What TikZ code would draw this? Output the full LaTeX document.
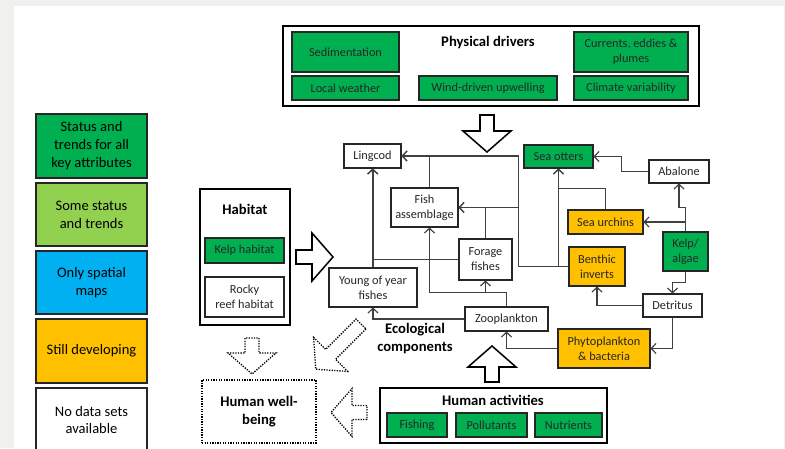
\documentclass[tikz,border=0pt]{standalone}
\usepackage{fontspec}
\setmainfont{Carlito}
\usetikzlibrary{arrows.meta}

\definecolor{fullstatus}{HTML}{00B050}
\definecolor{somestatus}{HTML}{92D050}
\definecolor{spatial}{HTML}{00B0F0}
\definecolor{developing}{HTML}{FFC000}
\definecolor{pagegray}{HTML}{F0F0EE}

\begin{document}
\begin{tikzpicture}[
    x=0.03cm, y=-0.03cm,
    comp/.style={
      draw=black!85,
      line width=0.9pt,
      fill=white,
      text=black!85,
      align=center,
      inner sep=1pt,
      font=\fontsize{10.5}{12.8}\selectfont
    },
    group/.style={draw=black, line width=1.6pt, fill=white},
    keybox/.style={
      draw=black!85,
      line width=1.6pt,
      minimum width=3.33cm,
      align=center,
      font=\fontsize{12.4}{15.3}\selectfont
    },
    title/.style={font=\fontsize{12.5}{15.3}\selectfont\bfseries, align=center},
    link/.style={-{Straight Barb[length=1.4mm,width=3mm]}, line width=1pt, draw=black!75},
    solidarrow/.style={draw=black, line width=1.3pt, fill=white},
    dotarrow/.style={draw=black, line width=1.1pt, dash pattern=on 1.1pt off 1.1pt, fill=white},
    pics/hollow/.style={code={
      \path[pic actions] (0,-7) -- (#1,-7) -- (#1,-24) -- (#1+21,0) -- (#1,24) -- (#1,7) -- (0,7) -- cycle;
    }}
  ]
    % page
    \fill[pagegray] (0,0) rectangle (785,448);
    \fill[white] (14,6) rectangle (784,448);
    \useasboundingbox (0,0) rectangle (785,448);

    % legend
    \node[keybox, fill=fullstatus, minimum height=1.92cm] (key1) at (91.5,146) {Status and\\trends for all\\key attributes};
    \node[keybox, fill=somestatus, minimum height=1.89cm] (key2) at (91.5,214.5) {Some status\\and trends};
    \node[keybox, fill=spatial, minimum height=1.89cm] (key3) at (91.5,282.5) {Only spatial\\maps};
    \node[keybox, fill=developing, minimum height=1.92cm] (key4) at (91.5,351) {Still developing};
    \node[keybox, fill=white, minimum height=1.92cm] (key5) at (91.5,420) {No data sets\\available};

    % physical drivers
    \node[group, minimum width=12.48cm, minimum height=2.4cm] (drivers) at (491,66) {};
    \node[title] (driverstitle) at (488,43) {Physical drivers};
    \node[comp, fill=fullstatus, minimum width=3.21cm, minimum height=1.2cm] (sediment) at (345.5,52) {Sedimentation};
    \node[comp, fill=fullstatus, minimum width=3.21cm, minimum height=0.72cm] (weather) at (345.5,88) {Local weather};
    \node[comp, fill=fullstatus, minimum width=4.14cm, minimum height=0.72cm] (upwelling) at (488,88) {Wind-driven upwelling};
    \node[comp, fill=fullstatus, minimum width=3.42cm, minimum height=1.2cm] (currents) at (631,52) {Currents, eddies \&\\plumes};
    \node[comp, fill=fullstatus, minimum width=3.42cm, minimum height=0.72cm] (climate) at (631,88) {Climate variability};

    % habitat
    \node[group, minimum width=2.7cm, minimum height=4.08cm] (habitat) at (245,257) {};
    \node[title] (habitattitle) at (245,209) {Habitat};
    \node[comp, fill=fullstatus, minimum width=2.37cm, minimum height=0.75cm] (kelphab) at (244.5,250.5) {Kelp habitat};
    \node[comp, minimum width=2.37cm, minimum height=1.2cm] (rocky) at (244.5,297) {Rocky\\reef habitat};

    % ecological components
    \node[comp, minimum width=1.71cm, minimum height=0.72cm] (lingcod) at (372.5,156) {Lingcod};
    \node[comp, minimum width=2.01cm, minimum height=1.17cm] (fish) at (424.5,207.5) {Fish\\assemblage};
    \node[comp, fill=fullstatus, minimum width=2.07cm, minimum height=0.69cm] (otters) at (558.5,156.5) {Sea otters};
    \node[comp, minimum width=1.8cm, minimum height=0.69cm] (abalone) at (679,171.5) {Abalone};
    \node[comp, fill=developing, minimum width=2.25cm, minimum height=0.72cm] (urchins) at (605.5,222) {Sea urchins};
    \node[comp, fill=fullstatus, minimum width=1.35cm, minimum height=1.17cm] (kelp) at (685.5,251.5) {Kelp/\\algae};
    \node[comp, fill=developing, minimum width=1.68cm, minimum height=1.17cm] (benthic) at (597,266.5) {Benthic\\inverts};
    \node[comp, minimum width=1.77cm, minimum height=0.69cm] (detritus) at (672.5,305.5) {Detritus};
    \node[comp, fill=developing, minimum width=2.76cm, minimum height=1.17cm] (phyto) at (604,348.5) {Phytoplankton\\\& bacteria};
    \node[comp, minimum width=2.49cm, minimum height=0.72cm] (zoo) at (506.5,319) {Zooplankton};
    \node[comp, minimum width=1.59cm, minimum height=1.23cm] (forage) at (485.5,259.5) {Forage\\fishes};
    \node[comp, minimum width=2.64cm, minimum height=1.17cm] (young) at (373,287.5) {Young of year\\fishes};
    \node[title] (ecotitle) at (415,338.5) {Ecological\\components};

    % human activities
    \node[group, minimum width=6.81cm, minimum height=1.65cm] (human) at (493.5,415.5) {};
    \node[title] (humantitle) at (493,400) {Human activities};
    \node[comp, fill=fullstatus, minimum width=1.8cm, minimum height=0.72cm] (fishing) at (417,425) {Fishing};
    \node[comp, fill=fullstatus, minimum width=2.13cm, minimum height=0.72cm] (pollutants) at (491.5,425) {Pollutants};
    \node[comp, fill=fullstatus, minimum width=2.01cm, minimum height=0.72cm] (nutrients) at (568.5,425) {Nutrients};

    % human well-being
    \node[title, draw=black, line width=1.1pt, dash pattern=on 1.1pt off 1.1pt,
      minimum width=3.42cm, minimum height=1.89cm] (wellbeing) at (259,411.5) {Human well-\\being};

    % food web links
    \draw[link] (benthic.west) -- ++(-50,0) |- (lingcod.east);
    \draw[link] (benthic.west) -- ++(-50,0) |- (fish.east);
    \draw[link] (benthic.west) -| (otters.south);
    \draw[link] (urchins.north) -- ++(0,-21) -| (otters.south);
    \draw[link] (abalone.west) -- ++(-27,0) |- (otters.east);
    \draw[link] (kelp.north) -- ++(0,-24) -| (abalone.south);
    \draw[link] (kelp.north) |- (urchins.east);
    \draw[link] (kelp.south) -- ++(0,11) -| (detritus.north);
    \draw[link] (detritus.west) -| (benthic.south);
    \draw[link] (detritus.south) |- (phyto.east);
    \draw[link] (phyto.west) -| (zoo.south);
    \draw[link] (zoo.west) -| (young.south);
    \draw[link] (zoo.north) -- ++(0,-14) -| (forage.south);
    \draw[link] (zoo.north) -- ++(0,-14) -| ([xshift=0.15cm]fish.south);
    \draw[link] ([xshift=0.15cm]fish.north) |- (lingcod.east);
    \draw[link] (forage.north) |- (fish.east);
    \draw[link] (forage.west) -| (lingcod.south);
    \draw[link] (young.north) -- (young.north |- lingcod.south);

    % block arrows
    \pic[solidarrow, rotate=-90] (driverarrow) at (487,115) {hollow=16};
    \pic[solidarrow] (habitatarrow) at (296,257) {hollow=16};
    \pic[solidarrow, rotate=90] (humanarrow) at (492,382) {hollow=15};
    \pic[dotarrow, rotate=-90] (habitatwell) at (252,338) {hollow=15};
    \pic[dotarrow, rotate=-135] (ecowell) at (361,324) {hollow=43};
    \pic[dotarrow, rotate=180] (humanwell) at (367,412.5) {hollow=15};
\end{tikzpicture}
\end{document}
